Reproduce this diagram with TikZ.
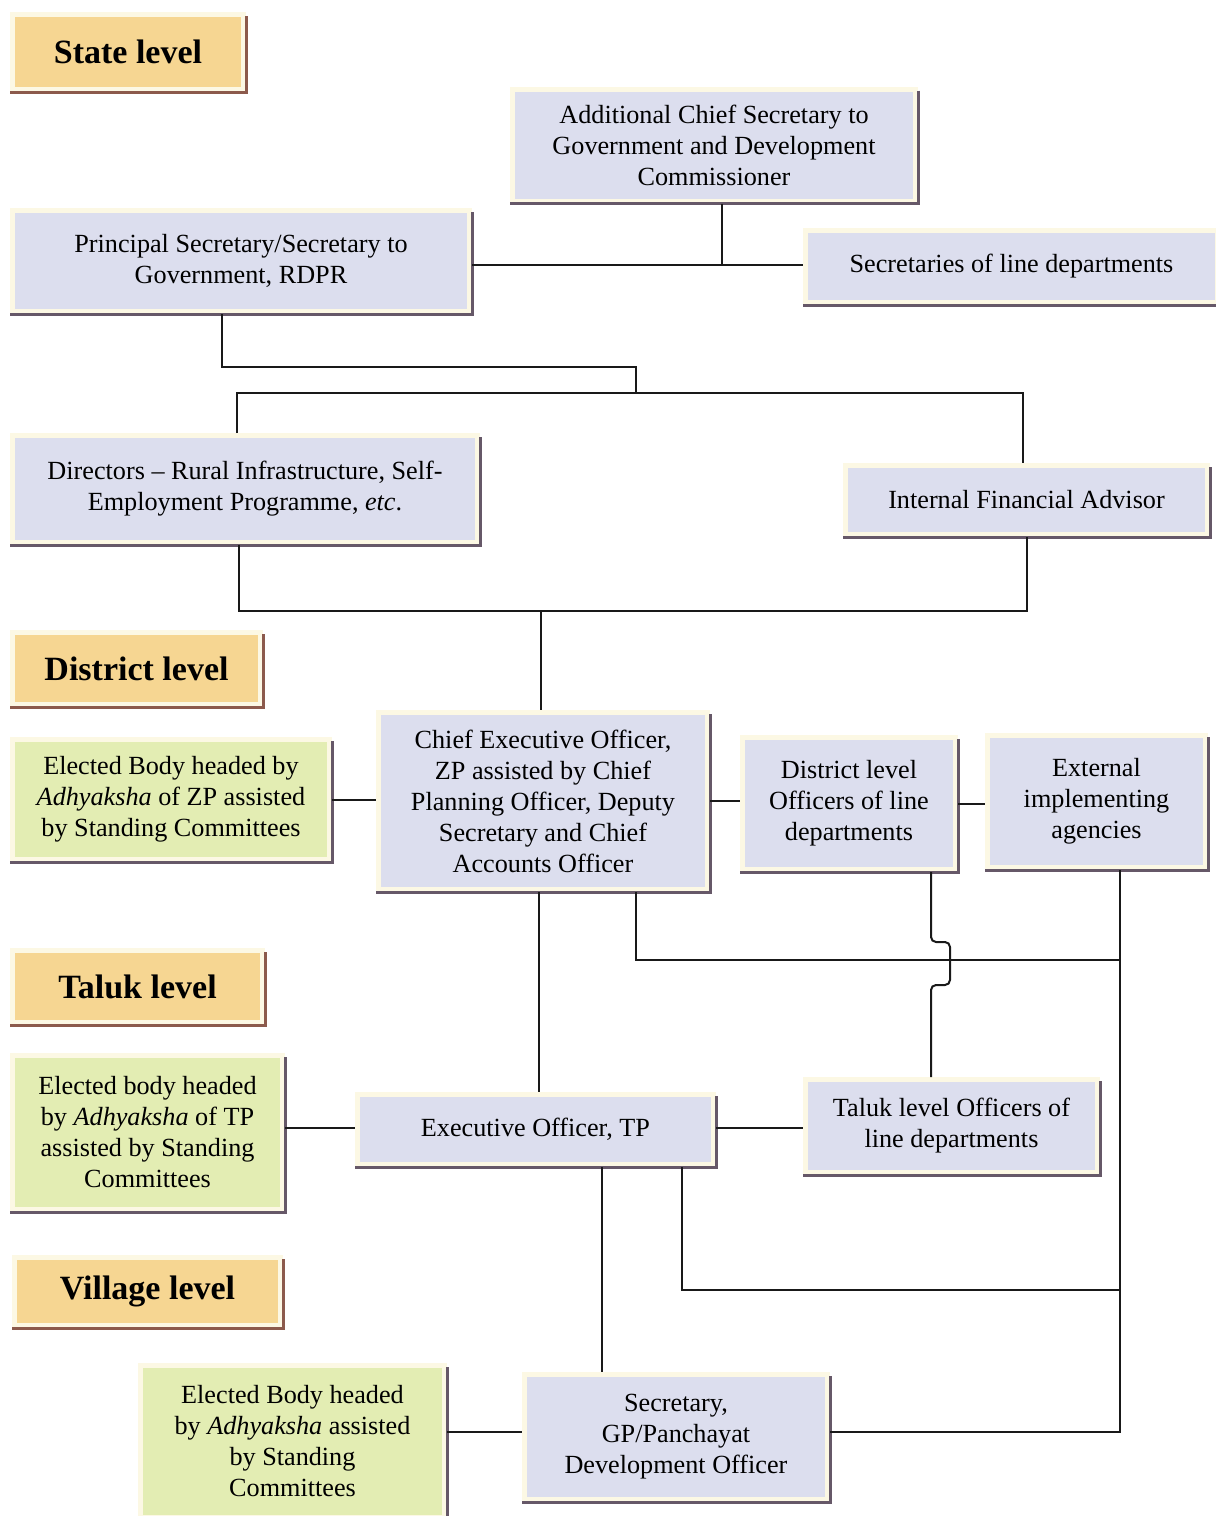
\documentclass[tikz,border=0pt]{standalone}
\usepackage{fontspec}
\setmainfont{Liberation Serif}
\usetikzlibrary{calc, positioning}

\definecolor{lvlfill}{HTML}{F6D692}
\definecolor{bluefill}{HTML}{DCDEEE}
\definecolor{greenfill}{HTML}{E3EDB3}
\definecolor{cream}{HTML}{FCF8E4}
\definecolor{shadowc}{HTML}{665868}
\definecolor{lvlshadowc}{HTML}{8C5A4C}

\begin{document}
\begin{tikzpicture}[
x = 0.5pt, y = -0.5pt,
   box/.style = {rectangle, draw=cream, line width=2.5pt, inner sep=2pt, align=center,
                 font=\fontsize{13.1pt}{15.5pt}\selectfont},
     L/.style = {box, fill=lvlfill, font=\fontsize{17pt}{20pt}\selectfont\bfseries},
     B/.style = {box, fill=bluefill},
     G/.style = {box, fill=greenfill},
    sz/.style n args = {2}{minimum width=#1pt, minimum height=#2pt},
  link/.style = {draw=black!90, line width=1pt}
                    ]
\useasboundingbox (0,0) rectangle (1216,1516);
\clip (0,0) rectangle (1216,1516);
\fill[white] (0,0) rectangle (1216,1516);
% state level
\node (lvlS) [L, sz={115.5}{37.5}] at (128,52)      {State level};
\node (acs)  [B, sz={201.5}{56}]   at (714,145)     {Additional Chief Secretary to\\Government and Development\\Commissioner};
\node (ps)   [B, sz={228.5}{50.5}] at (241,261)     {Principal Secretary/Secretary to\\Government, RDPR};
\node (sld)  [B, sz={206}{36}]     at (1011.5,266.5) {Secretaries of line departments};
\node (dir)  [B, sz={232.5}{53.5}] at (245,489)     {Directors – Rural Infrastructure, Self-\\Employment Programme, \textit{etc}.};
\node (ifa)  [B, sz={181}{34.5}]   at (1026.5,500)  {Internal Financial Advisor};
% district level
\node (lvlD) [L, sz={124}{36}]     at (136.5,668.5) {District level};
\node (ezp)  [G, sz={158.5}{60}]   at (171,799.5)   {Elected Body headed by\\\textit{Adhyaksha} of ZP assisted\\by Standing Committees};
\node (ceo)  [B, sz={164.5}{88.5}] at (543,801)     {Chief Executive Officer,\\ZP assisted by Chief\\Planning Officer, Deputy\\Secretary and Chief\\Accounts Officer};
\node (dlo)  [B, sz={106.5}{66}]   at (849,803.5)   {District level\\Officers of line\\departments};
\node (ext)  [B, sz={109}{66}]     at (1096.5,801.5) {External\\implementing\\agencies};
% taluk level
\node (lvlT) [L, sz={125}{36}]     at (137.5,986.5) {Taluk level};
\node (etp)  [G, sz={135}{77}]     at (147.5,1132.5) {Elected body headed\\by \textit{Adhyaksha} of TP\\assisted by Standing\\Committees};
\node (eo)   [B, sz={178}{35}]     at (535.5,1129.5) {Executive Officer, TP};
\node (tlo)  [B, sz={146}{46.5}]   at (951.5,1126)  {Taluk level Officers of\\line departments};
% village level
\node (lvlV) [L, sz={133}{34}]     at (147.5,1291.5) {Village level};
\node (egp)  [G, sz={152}{76}]     at (292.5,1441.5) {Elected Body headed\\by \textit{Adhyaksha} assisted\\by Standing\\Committees};
\node (gps)  [B, sz={151.5}{62.5}] at (676,1437)    {Secretary,\\GP/Panchayat\\Development Officer};
%
\foreach \n in {acs, ps, sld, dir, ifa, ezp, ceo, dlo, ext, etp, eo, tlo, egp, gps}
  \draw[shadowc, line width=1.5pt] ([yshift=-2pt]\n.north east) -- (\n.south east) -- (\n.south west);
\foreach \n in {lvlS, lvlD, lvlT, lvlV}
  \draw[lvlshadowc, line width=1.5pt] ([yshift=-2pt]\n.north east) -- (\n.south east) -- (\n.south west);
%
\coordinate (j1) at (722,265);
\draw[link] (acs.south -| j1) -- (j1);
\draw[link] (ps.east |- j1) -- (sld.west |- j1);
\coordinate (k1) at (222,367);
\coordinate (k2) at (636,393);
\draw[link] (ps.south -| k1) -- (k1) -| (k2);
\coordinate (b1) at (237,393);
\coordinate (b2) at (1023,393);
\draw[link] (dir.north -| b1) -- (b1) -- (b2) -- (ifa.north -| b2);
\coordinate (c1) at (239,611);
\coordinate (c2) at (1027,611);
\coordinate (c3) at (541,611);
\draw[link] (dir.south -| c1) -- (c1) -- (c2) -- (ifa.south -| c2);
\draw[link] (c3) -- (ceo.north -| c3);
%
\draw[link] (ezp.east) -- (ezp.east -| ceo.west);
\draw[link] (ceo.east) -- (ceo.east -| dlo.west);
\draw[link] (dlo.east) -- (dlo.east -| ext.west);
\coordinate (d1) at (539,0);
\draw[link] (ceo.south -| d1) -- (eo.north -| d1);
\coordinate (e1) at (636,960);
\coordinate (e2) at (1120,960);
\draw[link] (ceo.south -| e1) -- (e1) -- (e2);
\coordinate (f1) at (931,942);
\coordinate (f2) at (931,985);
\draw[link, rounded corners=2.5pt] (dlo.south -| f1) -- (f1) -- ++(19,0) -- ++(0,43) -- (f2) -- (tlo.north -| f2);
\coordinate (g1) at (1120,1432);
\draw[link] (ext.south -| g1) -- (g1) -- (gps.east |- g1);
%
\coordinate (h1) at (0,1128);
\draw[link] (etp.east |- h1) -- (eo.west |- h1);
\draw[link] (eo.east |- h1) -- (tlo.west |- h1);
\coordinate (m1) at (602,0);
\draw[link] (eo.south -| m1) -- (gps.north -| m1);
\coordinate (n1) at (682,1290);
\coordinate (n2) at (1120,1290);
\draw[link] (eo.south -| n1) -- (n1) -- (n2);
\draw[link] (egp.east |- g1) -- (gps.west |- g1);
\end{tikzpicture}
\end{document}
